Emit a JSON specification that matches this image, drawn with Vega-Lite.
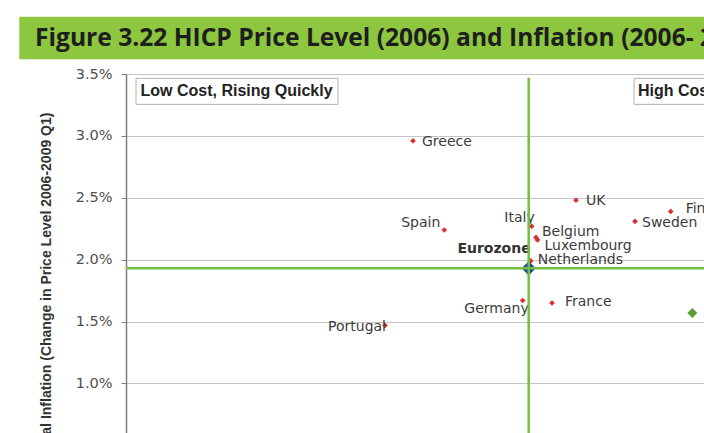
{
  "$schema": "https://vega.github.io/schema/vega-lite/v6.json",
  "autosize": {"type": "none"},
  "padding": {"left": 126, "top": 74, "right": 0, "bottom": 0},
  "width": 578,
  "height": 359,
  "background": "white",
  "config": {"view": {"stroke": null}},
  "data": {"values": [
    {"country": "Greece", "type": "Country", "price": 88.7, "inflation": 2.96},
    {"country": "Spain", "type": "Country", "price": 91.83, "inflation": 2.24},
    {"country": "Portugal", "type": "Country", "price": 85.9, "inflation": 1.47},
    {"country": "Italy", "type": "Country", "price": 100.57, "inflation": 2.27},
    {"country": "Belgium", "type": "Country", "price": 101.0, "inflation": 2.18},
    {"country": "Luxembourg", "type": "Country", "price": 101.15, "inflation": 2.16},
    {"country": "Netherlands", "type": "Country", "price": 100.47, "inflation": 1.99},
    {"country": "Eurozone", "type": "Eurozone", "price": 100.27, "inflation": 1.93},
    {"country": "Germany", "type": "Country", "price": 99.67, "inflation": 1.67},
    {"country": "France", "type": "Country", "price": 102.6, "inflation": 1.65},
    {"country": "UK", "type": "Country", "price": 105.0, "inflation": 2.48},
    {"country": "Sweden", "type": "Country", "price": 110.9, "inflation": 2.31},
    {"country": "Finland", "type": "Country", "price": 114.47, "inflation": 2.39},
    {"country": "Ireland", "type": "Ireland", "price": 116.63, "inflation": 1.57}
  ]},
  "encoding": {
    "x": {"field": "price", "type": "quantitative", "scale": {"domain": [60, 117.8], "nice": false, "zero": false}, "axis": null},
    "y": {"field": "inflation", "type": "quantitative", "scale": {"domain": [0.6, 3.5], "nice": false, "zero": false},
      "axis": {
        "values": [1, 1.5, 2, 2.5, 3, 3.5],
        "labelExpr": "format(datum.value, '.1f') + '%'",
        "grid": true, "gridColor": "#c4c4c4", "gridWidth": 1,
        "domainColor": "#7f7f7f", "domainWidth": 1.5,
        "tickColor": "#7f7f7f", "tickSize": 5, "tickWidth": 1,
        "labelFont": "DejaVu Sans", "labelFontSize": 14.5, "labelColor": "#505050", "labelPadding": 9,
        "title": "Annual Inflation (Change in Price Level 2006-2009 Q1)",
        "titleFont": "Liberation Sans", "titleFontSize": 14, "titleFontWeight": "bold", "titleColor": "#333333",
        "titleAngle": -90, "titleAlign": "center", "titleBaseline": "middle",
        "titleX": -79.5, "titleY": 217
      }}
  },
  "layer": [
    {
      "transform": [{"filter": "datum.country === 'Eurozone'"}],
      "mark": {"type": "rect", "fill": "#8dc63f"},
      "encoding": {
        "x": {"datum": 49.33, "type": "quantitative"}, "x2": {"datum": 140},
        "y": {"datum": 3.963, "type": "quantitative"}, "y2": {"datum": 3.619}
      }
    },
    {
      "transform": [{"filter": "datum.country === 'Eurozone'"}],
      "mark": {"type": "text", "align": "left", "baseline": "alphabetic", "font": "Open Sans", "fontWeight": "bold", "fontSize": 24.6, "color": "#1e1e1e"},
      "encoding": {
        "x": {"datum": 50.9, "type": "quantitative"},
        "y": {"datum": 3.726, "type": "quantitative"},
        "text": {"value": "Figure 3.22 HICP Price Level (2006) and Inflation (2006- 2009 Q1)"}
      }
    },
    {
      "transform": [{"filter": "datum.country === 'Eurozone'"}],
      "mark": {"type": "rect", "fill": "white", "stroke": "#b0b0b0", "strokeWidth": 1},
      "encoding": {
        "x": {"datum": 61.0, "type": "quantitative"}, "x2": {"datum": 81.2},
        "y": {"datum": 3.465, "type": "quantitative"}, "y2": {"datum": 3.255}
      }
    },
    {
      "transform": [{"filter": "datum.country === 'Eurozone'"}],
      "mark": {"type": "text", "align": "left", "baseline": "middle", "font": "Liberation Sans", "fontWeight": "bold", "fontSize": 16, "color": "#222222"},
      "encoding": {
        "x": {"datum": 61.45, "type": "quantitative"},
        "y": {"datum": 3.361, "type": "quantitative"},
        "text": {"value": "Low Cost, Rising Quickly"}
      }
    },
    {
      "transform": [{"filter": "datum.country === 'Eurozone'"}],
      "mark": {"type": "rect", "fill": "white", "stroke": "#b0b0b0", "strokeWidth": 1},
      "encoding": {
        "x": {"datum": 110.8, "type": "quantitative"}, "x2": {"datum": 135},
        "y": {"datum": 3.465, "type": "quantitative"}, "y2": {"datum": 3.255}
      }
    },
    {
      "transform": [{"filter": "datum.country === 'Eurozone'"}],
      "mark": {"type": "text", "align": "left", "baseline": "middle", "font": "Liberation Sans", "fontWeight": "bold", "fontSize": 16, "color": "#222222"},
      "encoding": {
        "x": {"datum": 111.2, "type": "quantitative"},
        "y": {"datum": 3.361, "type": "quantitative"},
        "text": {"value": "High Cost, Rising Quickly"}
      }
    },
    {
      "transform": [{"filter": "datum.type === 'Country'"}],
      "mark": {"type": "point", "shape": "diamond", "filled": true, "opacity": 1, "size": 32, "color": "#dd2c2c"}
    },
    {
      "transform": [{"filter": "datum.type === 'Eurozone'"}],
      "mark": {"type": "point", "shape": "diamond", "filled": true, "opacity": 1, "size": 200, "color": "#1d4a94"}
    },
    {
      "transform": [{"filter": "datum.type === 'Ireland'"}],
      "mark": {"type": "point", "shape": "diamond", "filled": true, "opacity": 1, "size": 100, "color": "#5a9e31"}
    },
    {"transform": [{"filter": "datum.country === 'Greece'"}], "mark": {"type": "text", "align": "left", "baseline": "middle", "dx": 9, "dy": 1, "font": "DejaVu Sans", "fontSize": 14, "color": "#3c3c3c"}, "encoding": {"text": {"field": "country"}}},
    {"transform": [{"filter": "datum.country === 'UK'"}], "mark": {"type": "text", "align": "left", "baseline": "middle", "dx": 10, "dy": 1, "font": "DejaVu Sans", "fontSize": 14, "color": "#3c3c3c"}, "encoding": {"text": {"field": "country"}}},
    {"transform": [{"filter": "datum.country === 'Sweden'"}], "mark": {"type": "text", "align": "left", "baseline": "middle", "dx": 7, "dy": 2, "font": "DejaVu Sans", "fontSize": 14, "color": "#3c3c3c"}, "encoding": {"text": {"field": "country"}}},
    {"transform": [{"filter": "datum.country === 'Finland'"}], "mark": {"type": "text", "align": "left", "baseline": "middle", "dx": 15, "dy": -2, "font": "DejaVu Sans", "fontSize": 14, "color": "#3c3c3c"}, "encoding": {"text": {"field": "country"}}},
    {"transform": [{"filter": "datum.country === 'Belgium'"}], "mark": {"type": "text", "align": "left", "baseline": "middle", "dx": 6, "dy": -5, "font": "DejaVu Sans", "fontSize": 14, "color": "#3c3c3c"}, "encoding": {"text": {"field": "country"}}},
    {"transform": [{"filter": "datum.country === 'Luxembourg'"}], "mark": {"type": "text", "align": "left", "baseline": "middle", "dx": 7, "dy": 6, "font": "DejaVu Sans", "fontSize": 14, "color": "#3c3c3c"}, "encoding": {"text": {"field": "country"}}},
    {"transform": [{"filter": "datum.country === 'Netherlands'"}], "mark": {"type": "text", "align": "left", "baseline": "middle", "dx": 7, "dy": -1, "font": "DejaVu Sans", "fontSize": 14, "color": "#3c3c3c"}, "encoding": {"text": {"field": "country"}}},
    {"transform": [{"filter": "datum.country === 'France'"}], "mark": {"type": "text", "align": "left", "baseline": "middle", "dx": 13, "dy": -1, "font": "DejaVu Sans", "fontSize": 14, "color": "#3c3c3c"}, "encoding": {"text": {"field": "country"}}},
    {"transform": [{"filter": "datum.country === 'Spain'"}], "mark": {"type": "text", "align": "right", "baseline": "middle", "dx": -4, "dy": -7, "font": "DejaVu Sans", "fontSize": 14, "color": "#3c3c3c"}, "encoding": {"text": {"field": "country"}}},
    {"transform": [{"filter": "datum.country === 'Portugal'"}], "mark": {"type": "text", "align": "right", "baseline": "middle", "dx": 1, "dy": 2, "font": "DejaVu Sans", "fontSize": 14, "color": "#3c3c3c"}, "encoding": {"text": {"field": "country"}}},
    {"transform": [{"filter": "datum.country === 'Italy'"}], "mark": {"type": "text", "align": "right", "baseline": "middle", "dx": 3, "dy": -8, "font": "DejaVu Sans", "fontSize": 14, "color": "#3c3c3c"}, "encoding": {"text": {"field": "country"}}},
    {"transform": [{"filter": "datum.country === 'Germany'"}], "mark": {"type": "text", "align": "right", "baseline": "middle", "dx": 6, "dy": 8, "font": "DejaVu Sans", "fontSize": 14, "color": "#3c3c3c"}, "encoding": {"text": {"field": "country"}}},
    {"transform": [{"filter": "datum.country === 'Eurozone'"}], "mark": {"type": "text", "align": "right", "baseline": "middle", "dx": 2, "dy": -19, "font": "DejaVu Sans", "fontWeight": "bold", "fontSize": 14, "color": "#333333"}, "encoding": {"text": {"field": "country"}}},
    {
      "transform": [{"filter": "datum.country === 'Eurozone'"}],
      "mark": {"type": "rule", "color": "#72bf44", "strokeWidth": 2.5},
      "encoding": {"y": {"datum": 3.47, "type": "quantitative"}, "y2": {"datum": 0.6}}
    },
    {
      "transform": [{"filter": "datum.country === 'Eurozone'"}],
      "mark": {"type": "rule", "color": "#72bf44", "strokeWidth": 2.5},
      "encoding": {"x": {"datum": 60, "type": "quantitative"}, "x2": {"datum": 117.8}}
    }
  ]
}
